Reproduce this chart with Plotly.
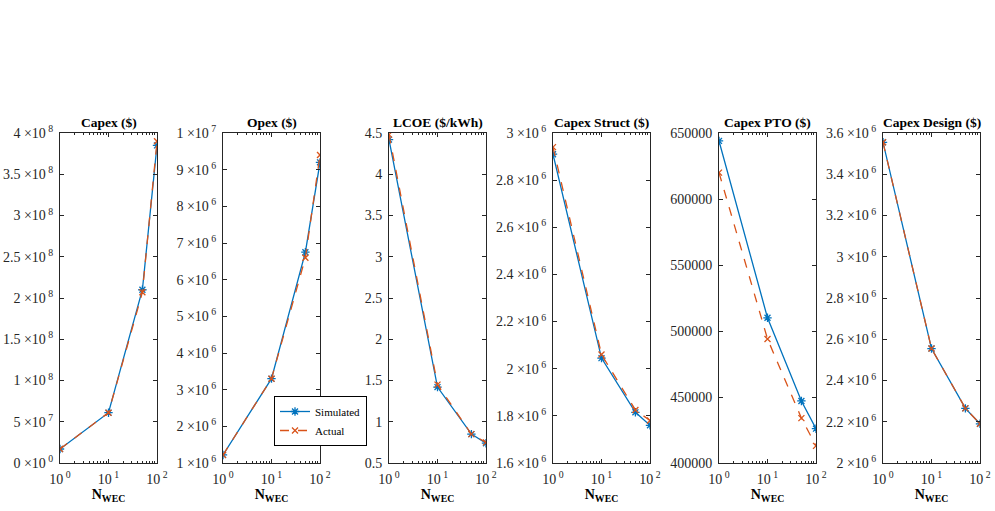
import plotly.graph_objects as go

N_WEC = [1, 10, 50, 100]

titles = ["Capex ($)", "Opex ($)", "LCOE ($/kWh)", "Capex Struct ($)", "Capex PTO ($)", "Capex Design ($)"]

simulated = [
    [1.7e7, 6.1e7, 2.10e8, 3.85e8],
    [1.22e6, 3.30e6, 6.75e6, 9.20e6],
    [4.42, 1.42, 0.85, 0.74],
    [2.91e6, 2.045e6, 1.815e6, 1.76e6],
    [644000, 510000, 447000, 426000],
    [3.555e6, 2.555e6, 2.265e6, 2.19e6],
]
actual = [
    [1.7e7, 6.1e7, 2.07e8, 3.90e8],
    [1.22e6, 3.30e6, 6.60e6, 9.40e6],
    [4.48, 1.45, 0.85, 0.75],
    [2.94e6, 2.06e6, 1.825e6, 1.78e6],
    [620000, 494000, 434000, 413000],
    [3.555e6, 2.555e6, 2.265e6, 2.19e6],
]

S = "\u00a0"
ytick_vals = [
    [0, 5e7, 1e8, 1.5e8, 2e8, 2.5e8, 3e8, 3.5e8, 4e8],
    [1e6, 2e6, 3e6, 4e6, 5e6, 6e6, 7e6, 8e6, 9e6, 1e7],
    [0.5, 1, 1.5, 2, 2.5, 3, 3.5, 4, 4.5],
    [1.6e6, 1.8e6, 2e6, 2.2e6, 2.4e6, 2.6e6, 2.8e6, 3e6],
    [400000, 450000, 500000, 550000, 600000, 650000],
    [2e6, 2.2e6, 2.4e6, 2.6e6, 2.8e6, 3e6, 3.2e6, 3.4e6, 3.6e6],
]
ytick_mant = [
    ["0", "5", "1", "1.5", "2", "2.5", "3", "3.5", "4"],
    ["1", "2", "3", "4", "5", "6", "7", "8", "9", "1"],
    ["0.5", "1", "1.5", "2", "2.5", "3", "3.5", "4", "4.5"],
    ["1.6", "1.8", "2", "2.2", "2.4", "2.6", "2.8", "3"],
    ["400000", "450000", "500000", "550000", "600000", "650000"],
    ["2", "2.2", "2.4", "2.6", "2.8", "3", "3.2", "3.4", "3.6"],
]
ytick_exp = [
    ["0", "7", "8", "8", "8", "8", "8", "8", "8"],
    ["6", "6", "6", "6", "6", "6", "6", "6", "6", "7"],
    None,
    ["6", "6", "6", "6", "6", "6", "6", "6"],
    None,
    ["6", "6", "6", "6", "6", "6", "6", "6", "6"],
]
xtick_vals = [1, 10, 100]
xtick_exp = ["0", "1", "2"]


def sci(m, e):
    return m + S + "×10<sup>" + S + e + "</sup>"


W, H = 995, 511
lefts = [60, 223, 389, 553, 719, 883]
pw = 97
top_px, bot_px = 133, 463

BLUE = "#0072BD"
ORANGE = "#D95319"
FONT = "Liberation Serif"
TICKC = "#262626"

fig = go.Figure()
for i in range(6):
    ax = "" if i == 0 else str(i + 1)
    fig.add_trace(go.Scatter(
        x=N_WEC, y=simulated[i], xaxis="x" + ax, yaxis="y" + ax,
        mode="lines+markers", name="Simulated", showlegend=(i == 0),
        line=dict(color=BLUE, width=1.3),
        marker=dict(symbol="asterisk-open", size=7, color=BLUE, line=dict(color=BLUE, width=1.3)),
    ))
    fig.add_trace(go.Scatter(
        x=N_WEC, y=actual[i], xaxis="x" + ax, yaxis="y" + ax,
        mode="lines+markers", name="Actual", showlegend=(i == 0),
        line=dict(color=ORANGE, width=1.3, dash="dash"),
        marker=dict(symbol="x-thin-open", size=6, color=ORANGE, line=dict(color=ORANGE, width=1.3)),
    ))
    x0 = lefts[i] / W
    x1 = (lefts[i] + pw) / W
    y0 = 1 - bot_px / H
    y1 = 1 - top_px / H
    yv = ytick_vals[i]
    if ytick_exp[i] is None:
        yt = ytick_mant[i]
    else:
        yt = [sci(m, e) for m, e in zip(ytick_mant[i], ytick_exp[i])]
    fig.layout["xaxis" + ax] = dict(
        domain=[x0, x1], anchor="y" + ax, type="log", range=[0, 2], automargin=False,
        tickmode="array", tickvals=xtick_vals, ticktext=["10<sup>" + S + e + "</sup>" for e in xtick_exp],
        ticks="inside", ticklen=4, tickcolor=TICKC, tickwidth=1,
        showline=True, linecolor=TICKC, linewidth=1, mirror="ticks",
        showgrid=False, zeroline=False,
        minor=dict(ticks="inside", ticklen=2, tickcolor=TICKC, showgrid=False, dtick="D1"),
        tickfont=dict(family=FONT, size=14, color=TICKC),
        ticklabelstandoff=3,
        title=dict(text="<b>N<sub>WEC</sub></b>", font=dict(family=FONT, size=14, color="black"), standoff=2),
    )
    fig.layout["yaxis" + ax] = dict(
        domain=[y0, y1], anchor="x" + ax, range=[yv[0], yv[-1]], automargin=False,
        tickmode="array", tickvals=yv, ticktext=yt,
        ticks="inside", ticklen=4, tickcolor=TICKC, tickwidth=1,
        showline=True, linecolor=TICKC, linewidth=1, mirror="ticks",
        showgrid=False, zeroline=False,
        tickfont=dict(family=FONT, size=14, color=TICKC),
        ticklabelstandoff=3,
    )
    fig.add_annotation(
        text="<b>" + titles[i] + "</b>", xref="paper", yref="paper",
        x=(x0 + x1) / 2, y=y1, xanchor="center", yanchor="bottom", yshift=1,
        showarrow=False, font=dict(family=FONT, size=13.5, color="black"),
    )

fig.update_layout(
    width=W, height=H, margin=dict(l=0, r=0, t=0, b=0),
    font=dict(family=FONT, size=14),
    plot_bgcolor="white", paper_bgcolor="white",
    showlegend=True,
    legend=dict(
        x=274 / W, y=1 - 396 / H, xanchor="left", yanchor="top",
        bgcolor="white", bordercolor="black", borderwidth=1,
        font=dict(family=FONT, size=11, color="black"),
        tracegroupgap=0, itemwidth=30,
    ),
)

fig.write_html("out.html")
